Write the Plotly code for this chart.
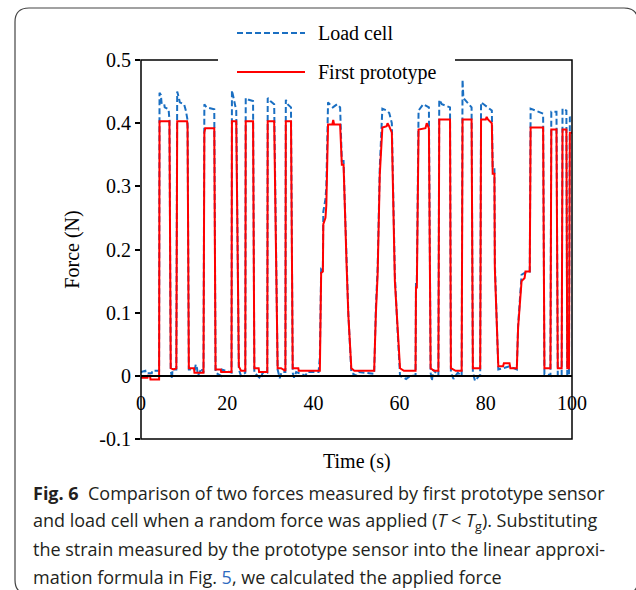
import plotly.graph_objects as go

# ---------------- data ----------------
proto_t = [0, 1.5, 1.6, 2.1, 2.2, 4.2,
           4.3, 6.6, 6.9, 7.5, 8.2,
           8.4, 10.7, 10.8, 11.1, 12.3, 12.4, 14.5,
           14.7, 14.9, 17.0, 17.3, 18.5, 18.6, 21.0,
           21.1, 22.1, 22.7, 23.2, 24.2,
           24.3, 26.0, 26.3, 27.3, 27.4, 29.3,
           29.4, 30.9, 31.7, 32.5, 33.5,
           33.6, 34.8, 35.2, 36.5, 36.6, 41.5,
           41.8, 42.2, 42.3, 42.8, 43.0, 43.4, 44.4, 44.6, 44.8, 46.2, 46.6, 47.0, 47.3, 47.7, 48.1, 48.8, 49.5, 54.1,
           54.5, 54.9, 55.4, 56.0, 57.0, 57.2, 57.6, 58.2, 58.9, 59.5, 60.1, 61.0, 63.7,
           63.8, 64.0, 64.4, 66.0, 66.3, 66.8, 67.2, 68.0, 69.0,
           69.2, 71.7, 71.9, 73.0, 74.4,
           74.6, 76.7, 77.0, 78.7,
           78.9, 80.0, 80.2, 80.5, 81.4, 81.6, 82.0, 82.1, 82.5, 82.9, 84.0, 84.2, 85.5, 85.7, 87.2,
           87.5, 88.3, 89.0, 89.2, 90.2, 90.4, 93.3, 93.6, 95.0,
           95.2, 96.4, 96.7, 97.6,
           97.8, 98.7, 98.9, 99.3, 99.5, 100]
proto_f = [-0.003, -0.003, 0.0, 0.0, -0.006, -0.006,
           0.403, 0.403, 0.012, 0.010, 0.012,
           0.403, 0.403, 0.395, 0.012, 0.012, 0.005, 0.005,
           0.385, 0.392, 0.392, 0.010, 0.010, 0.006, 0.006,
           0.403, 0.403, 0.015, 0.008, 0.008,
           0.403, 0.403, 0.012, 0.012, 0.006, 0.006,
           0.403, 0.403, 0.012, 0.012, 0.008,
           0.403, 0.403, 0.012, 0.012, 0.008, 0.008,
           0.163, 0.165, 0.240, 0.250, 0.270, 0.398, 0.398, 0.405, 0.398, 0.398, 0.334, 0.334, 0.255, 0.176, 0.097, 0.012, 0.008, 0.008,
           0.100, 0.160, 0.318, 0.393, 0.395, 0.400, 0.395, 0.385, 0.150, 0.070, 0.012, 0.008, 0.008,
           0.140, 0.140, 0.390, 0.392, 0.400, 0.392, 0.012, 0.008, 0.008,
           0.406, 0.406, 0.012, 0.008, 0.008,
           0.406, 0.406, 0.012, 0.012,
           0.406, 0.406, 0.410, 0.406, 0.400, 0.320, 0.320, 0.170, 0.092, 0.015, 0.015, 0.020, 0.020, 0.012, 0.012,
           0.077, 0.150, 0.155, 0.165, 0.165, 0.393, 0.393, 0.012, 0.012,
           0.390, 0.390, 0.012, 0.012,
           0.390, 0.390, 0.012, 0.012, 0.385, 0.385]

load_t = [0, 1.0, 1.1, 2.5, 2.6, 4.2,
          4.3, 4.6, 4.8, 5.4, 5.5, 6.4, 6.6, 6.9, 7.2, 7.3, 8.2,
          8.4, 8.8, 9.0, 10.0, 10.4, 10.8, 11.1, 12.5, 12.7, 13.0, 13.2, 13.6, 14.0, 14.5,
          14.7, 15.2, 17.0, 17.3, 18.6, 18.8, 21.0,
          21.1, 21.5, 21.8, 22.1, 22.7, 23.2, 24.2,
          24.3, 25.0, 26.0, 26.3, 27.8, 28.2, 29.3,
          29.4, 30.0, 30.9, 31.7, 32.2, 32.6, 33.5,
          33.6, 34.0, 34.8, 35.2, 35.5, 36.0, 38.2, 38.5, 41.2, 41.5,
          41.8, 42.2, 42.3, 42.8, 43.0, 43.4, 44.5, 45.5, 46.2, 46.6, 47.0, 47.3, 47.7, 48.1, 48.8, 50.0, 50.5, 54.1,
          54.5, 54.9, 55.4, 56.0, 57.0, 57.6, 58.2, 58.9, 59.5, 60.1, 61.5, 62.5, 63.7,
          63.8, 64.0, 64.4, 65.5, 66.8, 67.2, 67.5, 67.8, 69.0,
          69.2, 69.8, 71.7, 71.9, 72.5, 73.5, 74.4,
          74.6, 74.8, 75.2, 76.0, 76.7, 77.0, 77.5, 78.7,
          78.9, 79.5, 80.5, 81.4, 81.6, 82.0, 82.1, 82.5, 82.9, 84.0, 85.5, 87.2,
          87.5, 88.3, 89.0, 90.2, 90.4, 91.5, 93.3, 93.6, 94.2, 95.0,
          95.2, 96.4, 96.7, 97.6,
          97.8, 98.7, 98.9, 99.3, 99.5, 100]
load_f = [0.006, 0.008, 0.004, 0.004, 0.008, 0.008,
          0.448, 0.445, 0.430, 0.430, 0.425, 0.422, 0.405, 0.010, -0.005, 0.010, 0.010,
          0.450, 0.440, 0.433, 0.430, 0.420, 0.405, 0.010, 0.010, 0.018, 0.012, 0.000, 0.005, 0.012, 0.005,
          0.430, 0.425, 0.422, 0.005, 0.000, 0.010, 0.005,
          0.452, 0.440, 0.430, 0.420, 0.010, 0.000, 0.005,
          0.440, 0.437, 0.435, 0.005, -0.005, 0.005, 0.005,
          0.440, 0.435, 0.430, 0.010, -0.004, 0.006, 0.006,
          0.437, 0.430, 0.425, 0.005, -0.003, 0.006, 0.000, 0.006, 0.006, 0.030,
          0.170, 0.170, 0.260, 0.280, 0.300, 0.433, 0.425, 0.430, 0.425, 0.340, 0.340, 0.270, 0.180, 0.100, 0.005, 0.000, 0.006, 0.003,
          0.110, 0.170, 0.330, 0.423, 0.420, 0.416, 0.400, 0.160, 0.075, 0.000, -0.005, 0.000, 0.000,
          0.150, 0.150, 0.420, 0.430, 0.425, 0.005, -0.008, 0.010, 0.000,
          0.437, 0.430, 0.425, 0.005, -0.005, 0.005, 0.000,
          0.469, 0.440, 0.437, 0.430, 0.425, 0.005, -0.008, 0.002,
          0.433, 0.430, 0.425, 0.420, 0.330, 0.330, 0.180, 0.100, 0.010, 0.012, 0.015, 0.010,
          0.080, 0.160, 0.163, 0.165, 0.423, 0.420, 0.415, 0.003, 0.003, 0.000,
          0.418, 0.418, 0.000, 0.000,
          0.423, 0.420, 0.000, 0.000, 0.410, 0.405]

x_tick_vals = [0, 20, 40, 60, 80, 100]
x_tick_text = ["0", "20", "40", "60", "80", "100"]
y_tick_vals = [-0.1, 0, 0.1, 0.2, 0.3, 0.4, 0.5]
y_tick_text = ["-0.1", "0", "0.1", "0.2", "0.3", "0.4", "0.5"]

series_names = ["Load cell", "First prototype"]
x_title = "Time (s)"
y_title = "Force (N)"
caption_lines = [
    "<b>Fig. 6</b>  Comparison of two forces measured by first prototype sensor",
    "and load cell when a random force was applied (<i>T</i> &lt; <i>T</i><sub>g</sub>). Substituting",
    "the strain measured by the prototype sensor into the linear approxi-",
    "mation formula in Fig. <span style='color:#2e6bbf'>5</span>, we calculated the applied force",
]

# ---------------- layout helpers (pixel -> paper) ----------------
W, H = 636, 590
L, R, T, B = 141, 572, 60, 439


def px(x):
    return (x - L) / (R - L)


def py(y):
    return (B - y) / (B - T)


SERIF = "Liberation Serif, Times New Roman, serif"
SANS = "Open Sans, Lato, sans-serif"
BLUE = "#1a6fc2"
RED = "#ff0000"

fig = go.Figure()
fig.add_trace(go.Scatter(x=load_t, y=load_f, mode="lines", name=series_names[0],
                         line=dict(color=BLUE, width=2, dash="6px,3px"), showlegend=False))
fig.add_trace(go.Scatter(x=proto_t, y=proto_f, mode="lines", name=series_names[1],
                         line=dict(color=RED, width=2), showlegend=False))

shapes = []
# plot frame
shapes.append(dict(type="rect", xref="x domain", yref="y domain", x0=0, x1=1, y0=0, y1=1,
                   line=dict(color="black", width=1.5), layer="above"))
# legend background (hides top frame line)
shapes.append(dict(type="rect", xref="paper", yref="paper", x0=px(218), x1=px(455), y0=py(86), y1=py(14),
                   line=dict(width=0), fillcolor="white", layer="above"))
# legend samples
shapes.append(dict(type="line", xref="paper", yref="paper", x0=px(237), x1=px(305), y0=py(33), y1=py(33),
                   line=dict(color=BLUE, width=2, dash="6px,3px"), layer="above"))
shapes.append(dict(type="line", xref="paper", yref="paper", x0=px(237), x1=px(305), y0=py(72), y1=py(72),
                   line=dict(color=RED, width=2), layer="above"))
# outer rounded frame
r = 14
left, top, right, bottom = 15, 8, 638, 594
path = (f"M {px(left)},{py(top + r)} Q {px(left)},{py(top)} {px(left + r)},{py(top)} "
        f"L {px(right - r)},{py(top)} Q {px(right)},{py(top)} {px(right)},{py(top + r)} "
        f"L {px(right)},{py(bottom - r)} Q {px(right)},{py(bottom)} {px(right - r)},{py(bottom)} "
        f"L {px(left + r)},{py(bottom)} Q {px(left)},{py(bottom)} {px(left)},{py(bottom - r)} Z")
shapes.append(dict(type="path", xref="paper", yref="paper", path=path,
                   line=dict(color="#444444", width=1.2), layer="above"))

annotations = [
    dict(text=series_names[0], xref="paper", yref="paper", x=px(316), y=py(33), xanchor="left",
         yanchor="middle", showarrow=False, font=dict(family=SERIF, size=20, color="black")),
    dict(text=series_names[1], xref="paper", yref="paper", x=px(316), y=py(72), xanchor="left",
         yanchor="middle", showarrow=False, font=dict(family=SERIF, size=20, color="black")),
    dict(text=x_title, xref="paper", yref="paper", x=px(357), y=py(461), xanchor="center",
         yanchor="middle", showarrow=False, font=dict(family=SERIF, size=20, color="black")),
]
cap_y = [493, 521, 549, 577]
for line, yy in zip(caption_lines, cap_y):
    annotations.append(dict(text=line, xref="paper", yref="paper", x=px(31), y=py(yy), xanchor="left",
                            yanchor="middle", showarrow=False,
                            font=dict(family=SANS, size=18, color="#231f20")))

fig.update_layout(
    width=W, height=H,
    margin=dict(l=L, r=W - R, t=T, b=H - B, pad=0),
    paper_bgcolor="white", plot_bgcolor="white",
    shapes=shapes, annotations=annotations,
    font=dict(family=SERIF, size=20, color="black"),
    xaxis=dict(range=[0, 100], tickmode="array", tickvals=x_tick_vals, ticktext=x_tick_text,
               showgrid=False, zeroline=False, showline=True, linecolor="black", linewidth=1.5,
               anchor="free", position=1 / 6, ticks="", ticklabelstandoff=9,
               tickfont=dict(family=SERIF, size=20, color="black")),
    yaxis=dict(range=[-0.1, 0.5], tickmode="array", tickvals=y_tick_vals, ticktext=y_tick_text,
               showgrid=False, zeroline=False, showline=False, ticks="outside", ticklen=5,
               tickcolor="black", tickwidth=1.5,
               tickfont=dict(family=SERIF, size=20, color="black"),
               title=dict(text=y_title, standoff=14, font=dict(family=SERIF, size=20, color="black"))),
)

fig.write_html("out.html", config={"displayModeBar": False},
               post_script="document.body.style.margin='0';document.body.style.overflow='hidden';")
